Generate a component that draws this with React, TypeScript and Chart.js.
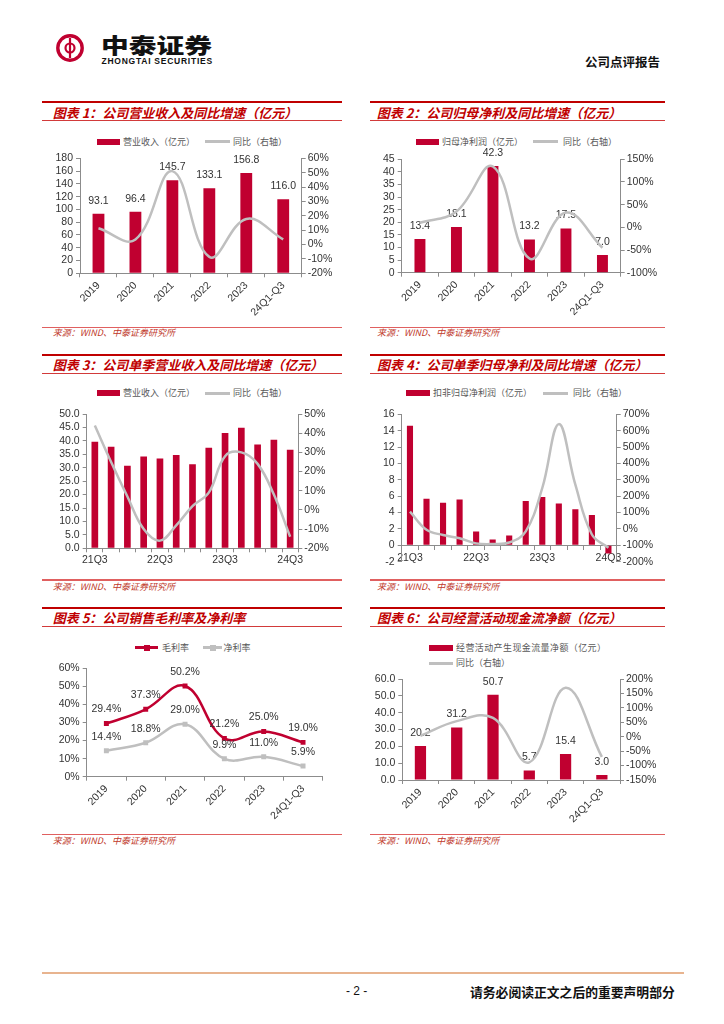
import React, { useEffect, useRef } from "react";
import { Chart, registerables } from "chart.js";
Chart.register(...registerables);

// ---------- data ----------
const years = ["2019", "2020", "2021", "2022", "2023", "24Q1-Q3"];
const revenue = [93.1, 96.4, 145.7, 133.1, 156.8, 116.0];
const revenueYoY = [11.3, 3.5, 51.1, -8.6, 17.8, 3.6];
const revenueTicks = [0, 20, 40, 60, 80, 100, 120, 140, 160, 180];
const revenueYoYTicks = [-20, -10, 0, 10, 20, 30, 40, 50, 60];

const netProfit = [13.4, 18.1, 42.3, 13.2, 17.5, 7.0];
const netProfitYoY = [10, 35, 134, -68.8, 32.6, -45];
const netProfitTicks = [0, 5, 10, 15, 20, 25, 30, 35, 40, 45];
const netProfitYoYTicks = [-100, -50, 0, 50, 100, 150];

const quarters = ["21Q3", "21Q4", "22Q1", "22Q2", "22Q3", "22Q4", "23Q1", "23Q2", "23Q3", "23Q4", "24Q1", "24Q2", "24Q3"];
const qRevenue = [39.7, 37.8, 30.7, 34.2, 33.4, 34.7, 31.3, 37.4, 42.9, 44.9, 38.6, 40.4, 36.7];
const qRevenueYoY = [44, 25, 7, -10, -16, -8, 2, 9, 28, 30, 24, 8, -14];
const qRevenueTicks = [0, 5, 10, 15, 20, 25, 30, 35, 40, 45, 50];
const qRevenueYoYTicks = [-20, -10, 0, 10, 20, 30, 40, 50];

const qProfit = [14.6, 5.7, 5.2, 5.6, 1.7, 0.7, 1.2, 5.4, 5.9, 5.1, 4.4, 3.7, -1.0];
const qProfitYoY = [106, -5, -37, -57, -88, -92, -83, -15, 250, 640, 270, -34, -115];
const qProfitTicks = [-2, 0, 2, 4, 6, 8, 10, 12, 14, 16];
const qProfitYoYTicks = [-200, -100, 0, 100, 200, 300, 400, 500, 600, 700];

const grossMargin = [29.4, 37.3, 50.2, 21.2, 25.0, 19.0];
const netMargin = [14.4, 18.8, 29.0, 9.9, 11.0, 5.9];
const marginTicks = [0, 10, 20, 30, 40, 50, 60];

const opCashFlow = [20.2, 31.2, 50.7, 5.7, 15.4, 3.0];
const opCashFlowYoY = [3, 54, 65, -88.8, 170, -70];
const opCashFlowTicks = [0, 10, 20, 30, 40, 50, 60];
const opCashFlowYoYTicks = [-150, -100, -50, 0, 50, 100, 150, 200];

// ---------- style ----------
const RED = "#C00030";
const TITLE_RED = "#C00000";
const GRAY = "#BFBFBF";
const AXIS = "#8C8C8C";
const TXT = "#333333";
const LATIN = "'Liberation Sans', Arial, sans-serif";
const CJK = "'Noto Sans CJK SC', 'Noto Sans', sans-serif";
const TICKFONT = { family: LATIN, size: 10.5 };

type Box = { L: number; T: number; R: number; B: number };
type Area = { l: number; t: number; r: number; b: number };

const pct = (v: number) => `${v}%`;
const int = (v: number) => `${v}`;
const dec1 = (v: number) => v.toFixed(1);

function yScale(ticks: number[], fmt: (v: number) => string, width: number, position: "left" | "right") {
  return {
    type: "linear",
    position,
    min: ticks[0],
    max: ticks[ticks.length - 1],
    afterBuildTicks: (s: any) => {
      s.ticks = ticks.map((v) => ({ value: v }));
    },
    afterFit: (s: any) => {
      s.width = width;
    },
    grid: { display: true, drawOnChartArea: false, drawTicks: true, tickLength: 4, color: AXIS, tickColor: AXIS },
    border: { display: true, color: AXIS, width: 1 },
    ticks: {
      font: TICKFONT,
      color: TXT,
      autoSkip: false,
      padding: position === "left" ? 3 : 2,
      callback: (v: any) => fmt(Number(v)),
    },
  };
}

function xScale(height: number, rotated: boolean, every: number, extra: any = {}) {
  return {
    type: "category",
    offset: true,
    afterFit: (s: any) => {
      s.height = height;
    },
    grid: { display: true, drawOnChartArea: false, offset: true, tickLength: 4, color: AXIS, tickColor: AXIS },
    border: { display: true, color: AXIS, width: 1 },
    ticks: {
      font: TICKFONT,
      color: TXT,
      autoSkip: false,
      padding: 2,
      minRotation: rotated ? 45 : 0,
      maxRotation: rotated ? 45 : 0,
      callback: function (this: any, _v: any, i: number) {
        return i % every === 0 ? this.getLabelForValue(i) : "";
      },
    },
    ...extra,
  };
}

function labelsPlugin(dsIndex: number[], fmt: (v: number) => string, offset: number, after: "one" | "all") {
  const draw = (chart: any, idx: number) => {
    const ctx = chart.ctx;
    ctx.save();
    ctx.font = `10.5px ${LATIN}`;
    ctx.fillStyle = TXT;
    ctx.textAlign = "center";
    ctx.textBaseline = "middle";
    const meta = chart.getDatasetMeta(idx);
    meta.data.forEach((el: any, i: number) => {
      const v = chart.data.datasets[idx].data[i] as number;
      ctx.fillText(fmt(v), el.x, el.y - offset);
    });
    ctx.restore();
  };
  return {
    id: "valueLabels",
    afterDatasetDraw(chart: any, args: any) {
      if (after === "one" && dsIndex.includes(args.index)) draw(chart, args.index);
    },
    afterDatasetsDraw(chart: any) {
      if (after === "all") dsIndex.forEach((i) => draw(chart, i));
    },
  };
}

function baseOptions(box: Box, area: Area, scales: any, extraPadding: any = {}) {
  return {
    responsive: false,
    animation: false,
    devicePixelRatio: 1,
    layout: { padding: { top: area.t - box.T, left: 0, right: 0, bottom: 0, ...extraPadding } },
    plugins: { legend: { display: false }, tooltip: { enabled: false } },
    scales,
  };
}

function barLineConfig(
  box: Box,
  area: Area,
  labels: string[],
  bars: number[],
  line: number[],
  leftTicks: number[],
  leftFmt: (v: number) => string,
  rightTicks: number[],
  barPct: number,
  x: any,
  withLabels: boolean
) {
  return {
    type: "bar",
    data: {
      labels,
      datasets: [
        {
          type: "line",
          data: line,
          yAxisID: "y1",
          borderColor: GRAY,
          borderWidth: 2.5,
          tension: 0.4,
          pointRadius: 0,
          fill: false,
          order: 0,
        },
        {
          type: "bar",
          data: bars,
          yAxisID: "y",
          backgroundColor: RED,
          barPercentage: barPct,
          categoryPercentage: 1,
          order: 1,
        },
      ],
    },
    options: baseOptions(box, area, {
      x,
      y: yScale(leftTicks, leftFmt, area.l - box.L, "left"),
      y1: yScale(rightTicks, pct, box.R - area.r, "right"),
    }),
    plugins: withLabels ? [labelsPlugin([1], dec1, 13, "one")] : [],
  };
}

// ---------- chart boxes ----------
const c1Box: Box = { L: 40, T: 148, R: 345, B: 326 };
const c1Area: Area = { l: 80, t: 158.3, r: 301.7, b: 273.3 };
const c2Box: Box = { L: 368, T: 148, R: 668, B: 326 };
const c2Area: Area = { l: 401.7, t: 159.3, r: 620.7, b: 272.7 };
const c3Box: Box = { L: 40, T: 402, R: 345, B: 578 };
const c3Area: Area = { l: 86.7, t: 414, r: 298.3, b: 548.3 };
const c4Box: Box = { L: 368, T: 402, R: 668, B: 578 };
const c4Area: Area = { l: 401.7, t: 414.3, r: 616.7, b: 561.7 };
const c5Box: Box = { L: 40, T: 656, R: 345, B: 832 };
const c5Area: Area = { l: 86.7, t: 668.3, r: 322.7, b: 776.7 };
const c6Box: Box = { L: 368, T: 667, R: 668, B: 832 };
const c6Area: Area = { l: 402.3, t: 679, r: 620, b: 780 };

const chart1 = () =>
  barLineConfig(c1Box, c1Area, years, revenue, revenueYoY, revenueTicks, int, revenueYoYTicks, 0.32,
    xScale(c1Box.B - c1Area.b, true, 1), true);
const chart2 = () =>
  barLineConfig(c2Box, c2Area, years, netProfit, netProfitYoY, netProfitTicks, int, netProfitYoYTicks, 0.3,
    xScale(c2Box.B - c2Area.b, true, 1), true);
const chart3 = () =>
  barLineConfig(c3Box, c3Area, quarters, qRevenue, qRevenueYoY, qRevenueTicks, dec1, qRevenueYoYTicks, 0.41,
    xScale(c3Box.B - c3Area.b, false, 4), false);
const chart4 = () => {
  const cfg: any = barLineConfig(c4Box, c4Area, quarters, qProfit, qProfitYoY, qProfitTicks, int, qProfitYoYTicks, 0.37,
    xScale(0, false, 4, { position: { y: 0 } }), false);
  cfg.options.layout.padding.bottom = c4Box.B - c4Area.b;
  return cfg;
};
const chart5 = () => ({
  type: "line",
  data: {
    labels: years,
    datasets: [
      {
        data: grossMargin,
        borderColor: RED,
        backgroundColor: RED,
        borderWidth: 2.5,
        tension: 0.4,
        pointStyle: "rect",
        pointRadius: 3.5,
        pointBorderWidth: 0,
      },
      {
        data: netMargin,
        borderColor: GRAY,
        backgroundColor: GRAY,
        borderWidth: 2.5,
        tension: 0.4,
        pointStyle: "rect",
        pointRadius: 3.5,
        pointBorderWidth: 0,
      },
    ],
  },
  options: baseOptions(
    c5Box,
    c5Area,
    {
      x: xScale(c5Box.B - c5Area.b, true, 1),
      y: yScale(marginTicks, pct, c5Area.l - c5Box.L, "left"),
    },
    { right: c5Box.R - c5Area.r }
  ),
  plugins: [labelsPlugin([0, 1], (v) => `${v.toFixed(1)}%`, 14, "all")],
});
const chart6 = () =>
  barLineConfig(c6Box, c6Area, years, opCashFlow, opCashFlowYoY, opCashFlowTicks, dec1, opCashFlowYoYTicks, 0.31,
    xScale(c6Box.B - c6Area.b, true, 1), true);

// ---------- components ----------
function ChartBox({ box, make }: { box: Box; make: () => any }) {
  const ref = useRef<HTMLCanvasElement>(null);
  useEffect(() => {
    const c = new Chart(ref.current as HTMLCanvasElement, make());
    return () => c.destroy();
  }, []);
  const w = box.R - box.L;
  const h = box.B - box.T;
  return (
    <canvas
      ref={ref}
      width={w}
      height={h}
      style={{ position: "absolute", left: box.L, top: box.T, width: w, height: h }}
    />
  );
}

const abs = (s: React.CSSProperties): React.CSSProperties => ({ position: "absolute", ...s });

function HLine({ x1, x2, y, t, c }: { x1: number; x2: number; y: number; t: number; c: string }) {
  return <div style={abs({ left: x1, top: y - t / 2, width: x2 - x1, height: t, background: c })} />;
}

function Txt({ x, y, size, children, style }: { x: number; y: number; size: number; children: any; style?: React.CSSProperties }) {
  const lh = Math.round(size * 1.5);
  return (
    <div
      style={abs({
        left: x,
        top: y - lh / 2,
        lineHeight: `${lh}px`,
        fontSize: size,
        whiteSpace: "nowrap",
        fontFamily: CJK,
        ...style,
      })}
    >
      {children}
    </div>
  );
}

type PanelDef = {
  x1: number; x2: number; topY: number; titleY: number; titleX: number; underY: number;
  srcLineY: number; srcY: number; srcX: number; title: string;
};

const panels: PanelDef[] = [
  { x1: 42, x2: 342, topY: 101.7, titleY: 112.7, titleX: 52.7, underY: 120.7, srcLineY: 327.7, srcY: 333.3, srcX: 52.7, title: "图表 1：公司营业收入及同比增速（亿元）" },
  { x1: 370, x2: 665, topY: 101.7, titleY: 112.7, titleX: 376.7, underY: 120.7, srcLineY: 327.7, srcY: 333.3, srcX: 377, title: "图表 2：公司归母净利及同比增速（亿元）" },
  { x1: 42, x2: 342, topY: 355, titleY: 365, titleX: 52.7, underY: 373.3, srcLineY: 580, srcY: 587.3, srcX: 52.7, title: "图表 3：公司单季营业收入及同比增速（亿元）" },
  { x1: 370, x2: 665, topY: 355, titleY: 365, titleX: 377, underY: 373.3, srcLineY: 580, srcY: 587.3, srcX: 377, title: "图表 4：公司单季归母净利及同比增速（亿元）" },
  { x1: 42, x2: 342, topY: 608.3, titleY: 618.3, titleX: 52.7, underY: 626.7, srcLineY: 834.3, srcY: 841, srcX: 52.7, title: "图表 5：公司销售毛利率及净利率" },
  { x1: 370, x2: 665, topY: 608.3, titleY: 618.3, titleX: 377, underY: 626.7, srcLineY: 834.3, srcY: 841, srcX: 377, title: "图表 6：公司经营活动现金流净额（亿元）" },
];

function Panel({ p }: { p: PanelDef }) {
  return (
    <>
      <HLine x1={p.x1} x2={p.x2} y={p.topY} t={2} c={TITLE_RED} />
      <Txt x={p.titleX} y={p.titleY} size={13} style={{ color: TITLE_RED, fontWeight: 700, fontStyle: "italic" }}>
        {p.title}
      </Txt>
      <HLine x1={p.x1} x2={p.x2} y={p.underY} t={1.2} c="#D23A3A" />
      <HLine x1={p.x1} x2={p.x2} y={p.srcLineY} t={1.2} c="#E06060" />
      <Txt x={p.srcX} y={p.srcY} size={9} style={{ color: "#C0392B", fontStyle: "italic" }}>
        来源：WIND、中泰证券研究所
      </Txt>
    </>
  );
}

const legendText: React.CSSProperties = { color: "#595959" };

function LegBar({ x, y }: { x: number; y: number }) {
  return <div style={abs({ left: x, top: y - 3, width: 23.5, height: 6, background: RED })} />;
}
function LegLine({ x, y, w = 25, c = GRAY, marker = false }: { x: number; y: number; w?: number; c?: string; marker?: boolean }) {
  return (
    <>
      <div style={abs({ left: x, top: y - 1.25, width: w, height: 2.5, background: c })} />
      {marker && <div style={abs({ left: x + w / 2 - 3, top: y - 3, width: 6, height: 6, background: c })} />}
    </>
  );
}

export default function App() {
  return (
    <div
      style={{
        position: "absolute",
        left: 0,
        top: 0,
        width: 724,
        height: 1024,
        background: "#fff",
        overflow: "hidden",
        fontFamily: CJK,
      }}
    >
      {/* header */}
      <svg style={abs({ left: 56, top: 33.5 })} width={28} height={28} viewBox="0 0 28 28">
        <circle cx={14} cy={14} r={12.2} fill="none" stroke={RED} strokeWidth={3.4} />
        <line x1={14} y1={4} x2={14} y2={24} stroke={RED} strokeWidth={2.2} />
        <path d="M14 9.5 A4.5 4.5 0 1 0 14 18.5" fill="none" stroke={RED} strokeWidth={2.2} />
        <path d="M14 9.5 A4.5 4.5 0 1 1 14 18.5" fill="none" stroke={RED} strokeWidth={2.2} />
      </svg>
      <div
        style={abs({
          left: 101,
          top: 32,
          fontSize: 21,
          lineHeight: "24px",
          fontWeight: 900,
          color: "#111",
          transform: "scaleX(1.32)",
          transformOrigin: "left center",
          whiteSpace: "nowrap",
          fontFamily: CJK,
        })}
      >
        中泰证券
      </div>
      <div
        style={abs({
          left: 101.5,
          top: 56,
          fontSize: 8.5,
          lineHeight: "10px",
          fontWeight: 700,
          letterSpacing: 0.75,
          color: "#111",
          whiteSpace: "nowrap",
          fontFamily: LATIN,
        })}
      >
        ZHONGTAI SECURITIES
      </div>
      <Txt x={585} y={61} size={12.5} style={{ fontWeight: 700, color: "#111" }}>
        公司点评报告
      </Txt>

      {panels.map((p, i) => (
        <Panel key={i} p={p} />
      ))}

      {/* legends */}
      <LegBar x={96.7} y={141.7} />
      <Txt x={123} y={141.7} size={9} style={legendText}>营业收入（亿元）</Txt>
      <LegLine x={205} y={141.7} />
      <Txt x={233} y={141.7} size={9} style={legendText}>同比（右轴）</Txt>

      <LegBar x={415.7} y={141.7} />
      <Txt x={442} y={141.7} size={9} style={legendText}>归母净利润（亿元）</Txt>
      <LegLine x={533} y={141.7} />
      <Txt x={563} y={141.7} size={9} style={legendText}>同比（右轴）</Txt>

      <LegBar x={96.7} y={393.3} />
      <Txt x={123} y={393.3} size={9} style={legendText}>营业收入（亿元）</Txt>
      <LegLine x={205} y={393.3} />
      <Txt x={233} y={393.3} size={9} style={legendText}>同比（右轴）</Txt>

      <LegBar x={406} y={393.3} />
      <Txt x={433} y={393.3} size={9} style={legendText}>扣非归母净利润（亿元）</Txt>
      <LegLine x={543} y={393.3} />
      <Txt x={573} y={393.3} size={9} style={legendText}>同比（右轴）</Txt>

      <LegLine x={135} y={647.7} w={23} c={RED} marker />
      <Txt x={162} y={647.7} size={9} style={legendText}>毛利率</Txt>
      <LegLine x={203} y={647.7} w={19} c={GRAY} marker />
      <Txt x={223.5} y={647.7} size={9} style={legendText}>净利率</Txt>

      <LegBar x={429.3} y={647.7} />
      <Txt x={456} y={647.7} size={9} style={{ ...legendText, letterSpacing: 0.4 }}>经营活动产生现金流量净额（亿元）</Txt>
      <LegLine x={429.3} y={663.3} w={23.5} />
      <Txt x={456} y={663.3} size={9} style={legendText}>同比（右轴）</Txt>

      {/* charts */}
      <ChartBox box={c1Box} make={chart1} />
      <ChartBox box={c2Box} make={chart2} />
      <ChartBox box={c3Box} make={chart3} />
      <ChartBox box={c4Box} make={chart4} />
      <ChartBox box={c5Box} make={chart5} />
      <ChartBox box={c6Box} make={chart6} />

      {/* footer */}
      <HLine x1={42} x2={684} y={973} t={2} c="#E8B48F" />
      <div style={abs({ left: 346, top: 983, fontSize: 12, lineHeight: "16px", fontFamily: LATIN, color: "#111", whiteSpace: "nowrap" })}>
        - 2 -
      </div>
      <Txt x={470} y={991} size={12.8} style={{ fontWeight: 700, color: "#111" }}>
        请务必阅读正文之后的重要声明部分
      </Txt>
    </div>
  );
}
